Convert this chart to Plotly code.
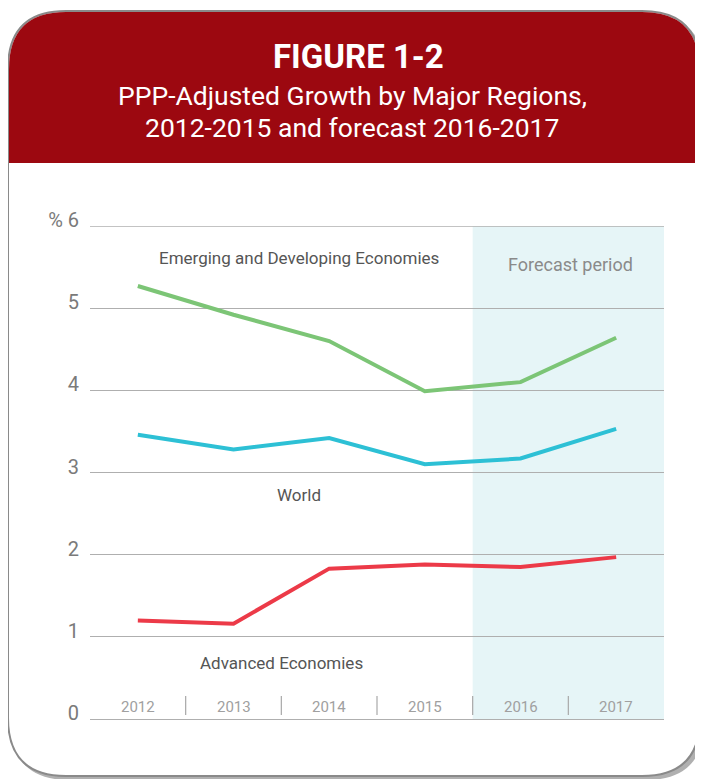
import plotly.graph_objects as go

# ---- data ----
years = ["2012", "2013", "2014", "2015", "2016", "2017"]
emerging = [5.27, 4.92, 4.60, 3.99, 4.10, 4.64]
world = [3.46, 3.28, 3.42, 3.10, 3.17, 3.53]
advanced = [1.20, 1.16, 1.83, 1.88, 1.85, 1.97]
y_ticks = [0, 1, 2, 3, 4, 5, 6]
y_ticktext = ["0", "1", "2", "3", "4", "5", "% 6"]
forecast_years = ["2016", "2017"]

OFF = 8  # page body margin
W, H = 703 - OFF, 779 - OFF
L, R, T, B = 90 - OFF, 39, 226 - OFF, 60
PW, PH = W - L - R, H - T - B


def px(x):  # page pixel -> paper
    return (x - OFF - L) / PW


def py(y):
    return (H - B - (y - OFF)) / PH


FONT = "Roboto"

fig = go.Figure()

fig.add_trace(go.Scatter(x=years, y=emerging, mode="lines",
                         line=dict(color="#7CC576", width=4), hoverinfo="skip"))
fig.add_trace(go.Scatter(x=years, y=world, mode="lines",
                         line=dict(color="#2DC0D5", width=4), hoverinfo="skip"))
fig.add_trace(go.Scatter(x=years, y=advanced, mode="lines",
                         line=dict(color="#EC3A48", width=4), hoverinfo="skip"))

shapes = []


def rrect(x0, y0, x1, y1, r, top_only=False):
    X0, X1 = px(x0), px(x1)
    Y0, Y1 = py(y0), py(y1)
    rx, ry = r / PW, r / PH
    if top_only:
        return (f"M {X0},{Y1} L {X0},{Y0 - ry} Q {X0},{Y0} {X0 + rx},{Y0} "
                f"L {X1 - rx},{Y0} Q {X1},{Y0} {X1},{Y0 - ry} L {X1},{Y1} Z")
    return (f"M {X0},{Y1 + ry} L {X0},{Y0 - ry} Q {X0},{Y0} {X0 + rx},{Y0} "
            f"L {X1 - rx},{Y0} Q {X1},{Y0} {X1},{Y0 - ry} L {X1},{Y1 + ry} "
            f"Q {X1},{Y1} {X1 - rx},{Y1} L {X0 + rx},{Y1} Q {X0},{Y1} {X0},{Y1 + ry} Z")


# shadow
shapes.append(dict(type="path", xref="paper", yref="paper", layer="below",
                   path=rrect(11, 14, 704, 780, 58), fillcolor="#B0B0B0",
                   line=dict(width=0)))
# card
shapes.append(dict(type="path", xref="paper", yref="paper", layer="below",
                   path=rrect(8, 11, 700, 776, 58), fillcolor="white",
                   line=dict(color="#8A8A8A", width=2)))
# header
shapes.append(dict(type="path", xref="paper", yref="paper", layer="below",
                   path=rrect(9, 12, 699, 163, 57, top_only=True), fillcolor="#9C0810",
                   line=dict(width=0)))
# forecast shading
shapes.append(dict(type="rect", xref="x", yref="y", layer="below",
                   x0=years.index(forecast_years[0]) - 0.5,
                   x1=years.index(forecast_years[-1]) + 0.5,
                   y0=0, y1=y_ticks[-1], fillcolor="#E6F5F7", line=dict(width=0)))
# top gridline (range edge)
shapes.append(dict(type="line", xref="paper", yref="y", x0=0, x1=1,
                   y0=y_ticks[-1], y1=y_ticks[-1],
                   line=dict(color="#AFAFAF", width=1.3)))
# category separators
for i in range(1, len(years)):
    shapes.append(dict(type="line", xref="x", yref="y", x0=i - 0.5, x1=i - 0.5,
                       y0=0.05, y1=0.28, line=dict(color="#A8A8A8", width=1.2)))

annotations = [
    dict(text="<b>FIGURE 1-2</b>", xref="paper", yref="paper", x=px(358), y=py(56),
         xanchor="center", yanchor="middle",
         showarrow=False, font=dict(family=FONT, size=33, color="white")),
    dict(text="PPP-Adjusted Growth by Major Regions,", xref="paper", yref="paper",
         x=px(352), y=py(95), xanchor="center", yanchor="middle",
         showarrow=False, font=dict(family=FONT, size=26.5, color="white")),
    dict(text="2012-2015 and forecast 2016-2017", xref="paper", yref="paper",
         x=px(352), y=py(127), xanchor="center", yanchor="middle",
         showarrow=False, font=dict(family=FONT, size=26.5, color="white")),
    dict(text="Emerging and Developing Economies", xref="x", yref="y", x=1.68, y=5.61,
         showarrow=False, font=dict(family=FONT, size=17, color="#555555")),
    dict(text="World", xref="x", yref="y", x=1.68, y=2.73,
         showarrow=False, font=dict(family=FONT, size=17, color="#555555")),
    dict(text="Advanced Economies", xref="x", yref="y", x=1.50, y=0.68,
         showarrow=False, font=dict(family=FONT, size=17, color="#555555")),
    dict(text="Forecast period", xref="x", yref="y", x=4.52, y=5.53,
         showarrow=False, font=dict(family=FONT, size=18, color="#8A8A8A")),
]
for i, yr in enumerate(years):
    annotations.append(dict(text=yr, xref="x", yref="y", x=i, y=0.15, showarrow=False,
                            font=dict(family=FONT, size=15, color="#A0A0A0")))

fig.update_layout(
    width=W, height=H,
    margin=dict(l=L, r=R, t=T, b=B, pad=0),
    paper_bgcolor="white", plot_bgcolor="rgba(0,0,0,0)",
    showlegend=False,
    shapes=shapes, annotations=annotations,
    font=dict(family=FONT),
    xaxis=dict(type="category", categoryorder="array", categoryarray=years,
               range=[-0.5, len(years) - 0.5], showticklabels=False, showgrid=False,
               zeroline=False, showline=False, fixedrange=True),
    yaxis=dict(range=[0, 6], tickvals=y_ticks, ticktext=y_ticktext,
               showgrid=True, gridcolor="#AFAFAF", gridwidth=1.3,
               zeroline=True, zerolinecolor="#AFAFAF", zerolinewidth=1.3,
               showline=False, ticks="", ticklabelstandoff=10, ticklabelshift=-6,
               tickfont=dict(family=FONT, size=20, color="#7A7A7A"), fixedrange=True),
)

fig.write_html("out.html")
